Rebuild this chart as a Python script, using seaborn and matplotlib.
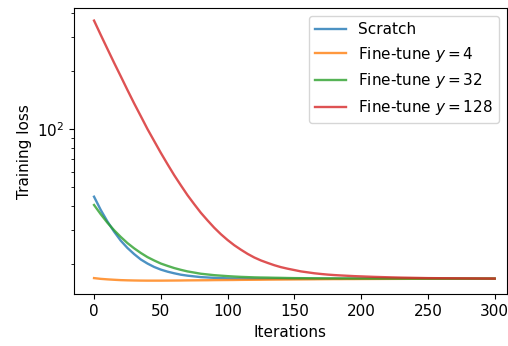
import numpy as np
import pandas as pd
import matplotlib
matplotlib.use("Agg")
import matplotlib.pyplot as plt
import seaborn as sns

plt.rcParams["font.size"] = 11

iterations = list(range(0, 201, 5)) + list(range(210, 301, 10))

scratch = [44.5, 38.0, 33.1, 29.3, 26.3, 24.1, 22.4, 21.0, 20.0, 19.2,
           18.6, 18.15, 17.8, 17.5, 17.3, 17.15, 17.0, 16.93, 16.85, 16.8,
           16.75, 16.72, 16.7, 16.68, 16.66, 16.66, 16.65, 16.65, 16.65, 16.65,
           16.65, 16.65, 16.65, 16.65, 16.66, 16.66, 16.66, 16.66, 16.66, 16.67,
           16.67,
           16.68, 16.68, 16.69, 16.69, 16.7, 16.7, 16.7, 16.7, 16.7, 16.7]
finetune_4 = [16.8, 16.65, 16.55, 16.47, 16.4, 16.36, 16.33, 16.31, 16.3, 16.3,
              16.3, 16.31, 16.32, 16.33, 16.35, 16.36, 16.37, 16.38, 16.4, 16.41,
              16.42, 16.43, 16.45, 16.46, 16.47, 16.48, 16.5, 16.51, 16.52, 16.53,
              16.54, 16.55, 16.56, 16.57, 16.58, 16.59, 16.6, 16.6, 16.61, 16.61,
              16.62,
              16.63, 16.64, 16.65, 16.66, 16.67, 16.68, 16.69, 16.7, 16.7, 16.7]
finetune_32 = [40.3, 36.1, 32.6, 29.8, 27.5, 25.55, 24.0, 22.7, 21.6, 20.75,
               20.0, 19.45, 18.95, 18.55, 18.2, 17.95, 17.7, 17.55, 17.4, 17.3,
               17.2, 17.12, 17.05, 17.0, 16.95, 16.92, 16.9, 16.87, 16.85, 16.82,
               16.8, 16.79, 16.78, 16.77, 16.76, 16.75, 16.75, 16.74, 16.74, 16.73,
               16.73,
               16.72, 16.72, 16.71, 16.71, 16.7, 16.7, 16.7, 16.7, 16.7, 16.7]
finetune_128 = [366, 308.6, 261, 221, 188, 159.6, 136, 116.7, 100, 86.7,
                75.2, 65.7, 57.6, 51, 45.3, 40.7, 36.7, 33.5, 30.7, 28.4,
                26.5, 24.9, 23.6, 22.45, 21.5, 20.75, 20.15, 19.6, 19.15, 18.8,
                18.5, 18.2, 18.0, 17.8, 17.65, 17.52, 17.42, 17.34, 17.27, 17.2,
                17.15,
                17.05, 16.97, 16.9, 16.85, 16.8, 16.78, 16.76, 16.74, 16.72, 16.7]

series_names = ["Scratch", "Fine-tune $y=4$", "Fine-tune $y=32$", "Fine-tune $y=128$"]
series_values = [scratch, finetune_4, finetune_32, finetune_128]
colors = ["tab:blue", "tab:orange", "tab:green", "tab:red"]

fig = plt.figure(figsize=(5.08, 3.46), dpi=100)
ax = fig.add_axes([0.1457, 0.1494, 0.8517, 0.8266])

for name, vals, c in zip(series_names, series_values, colors):
    sns.lineplot(x=iterations, y=vals, ax=ax, label=name, color=c, alpha=0.8, linewidth=1.7)

ax.set_yscale("log")
ax.set_xlim(-15, 309)
ax.set_ylim(13.84, 424)
ax.set_xticks([0, 50, 100, 150, 200, 250, 300])
ax.set_xlabel("Iterations")
ax.set_ylabel("Training loss")
ax.legend(loc="upper right")

fig.savefig("out.png", dpi=100)
